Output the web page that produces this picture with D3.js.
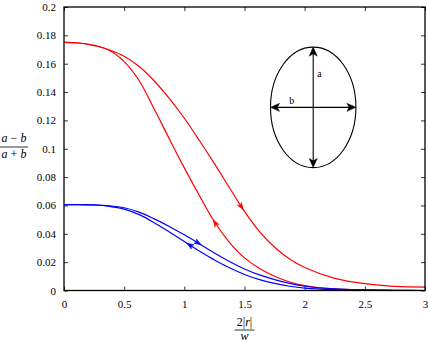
<!DOCTYPE html>
<html>
<head>
<meta charset="utf-8">
<script src="https://cdn.jsdelivr.net/npm/d3@7"></script>
<style>
  html, body { margin: 0; padding: 0; background: #fff; }
  svg { display: block; }
  svg text { font-family: 'Liberation Serif', 'DejaVu Serif', serif !important; }
</style>
</head>
<body>
<svg id="chart" width="428" height="342"></svg>
<script>
// ---- data ----
const xValues      = [0, 0.125, 0.25, 0.375, 0.5, 0.625, 0.75, 0.875, 1.0, 1.125, 1.25, 1.375, 1.5, 1.625, 1.75, 1.875, 2.0, 2.25, 2.5, 2.75, 3.0];
const redForward   = [0.175, 0.1746, 0.1730, 0.1698, 0.1652, 0.1580, 0.1478, 0.1355, 0.1215, 0.1058, 0.0895, 0.0725, 0.0558, 0.0415, 0.0305, 0.0222, 0.0162, 0.0086, 0.0048, 0.0029, 0.0024];
const redBackward  = [0.175, 0.1746, 0.1728, 0.1695, 0.1615, 0.1480, 0.1280, 0.1070, 0.0865, 0.0670, 0.0485, 0.0340, 0.0230, 0.0155, 0.0100, 0.0060, 0.0035, 0.0011, 0.0004, 0.0001, 0];
const blueForward  = [0.0606, 0.0606, 0.0604, 0.0598, 0.0584, 0.0553, 0.0505, 0.0452, 0.0393, 0.0330, 0.0265, 0.0205, 0.0152, 0.0110, 0.0077, 0.0050, 0.0030, 0.0011, 0.0004, 0.0001, 0];
const blueBackward = [0.0606, 0.0606, 0.0603, 0.0594, 0.0574, 0.0535, 0.0478, 0.0413, 0.0345, 0.0278, 0.0215, 0.0160, 0.0113, 0.0077, 0.0050, 0.0030, 0.0017, 0.0006, 0.0002, 0, 0];
const xTicks = [0, 0.5, 1, 1.5, 2, 2.5, 3];
const xTickLabels = ["0", "0.5", "1", "1.5", "2", "2.5", "3"];
const yTicks = [0, 0.02, 0.04, 0.06, 0.08, 0.1, 0.12, 0.14, 0.16, 0.18, 0.2];
const yTickLabels = ["0", "0.02", "0.04", "0.06", "0.08", "0.1", "0.12", "0.14", "0.16", "0.18", "0.2"];
// arrow markers: series, x position, direction (+1 forward, -1 backward)
const arrowSeries = ["redForward", "redBackward", "blueForward", "blueBackward"];
const arrowX      = [1.49, 1.24, 1.14, 1.02];
const arrowDir    = [1, -1, 1, -1];

// ---- layout ----
const FONT = "'Liberation Serif', 'DejaVu Serif', serif";
const svg = d3.select("#chart").style("font-family", FONT);
const L = 64, R = 425, T = 7, B = 290.5;
const x = d3.scaleLinear().domain([0, 3]).range([L, R]);
const y = d3.scaleLinear().domain([0, 0.2]).range([B, T]);

// axes with inward ticks
const fmtX = (d, i) => xTickLabels[i];
const fmtY = (d, i) => yTickLabels[i];
const axB = svg.append("g").attr("transform", `translate(0,${B})`)
  .call(d3.axisBottom(x).tickValues(xTicks).tickFormat(fmtX).tickSizeInner(-4).tickSizeOuter(0).tickPadding(9.5));
const axL = svg.append("g").attr("transform", `translate(${L},0)`)
  .call(d3.axisLeft(y).tickValues(yTicks).tickFormat(fmtY).tickSizeInner(-4).tickSizeOuter(0).tickPadding(8));
const axT = svg.append("g").attr("transform", `translate(0,${T})`)
  .call(d3.axisTop(x).tickValues(xTicks).tickFormat("").tickSizeInner(-4).tickSizeOuter(0));
const axR = svg.append("g").attr("transform", `translate(${R},0)`)
  .call(d3.axisRight(y).tickValues(yTicks).tickFormat("").tickSizeInner(-4).tickSizeOuter(0));
[axB, axL, axT, axR].forEach(g => {
  g.attr("font-family", null).attr("font-size", 11);
  g.select(".domain").remove();
  g.selectAll(".tick line").attr("stroke", "#333").attr("stroke-width", 1);
  g.selectAll(".tick text").attr("fill", "#000").style("font-family", FONT).attr("font-size", 11);
});

// curves
const line = d3.line().x((d, i) => x(xValues[i])).y(d => y(d)).curve(d3.curveCatmullRom.alpha(0.5));
const seriesData = { redForward, redBackward, blueForward, blueBackward };
const seriesColor = { redForward: "#ff0000", redBackward: "#ff0000", blueForward: "#0000ff", blueBackward: "#0000ff" };
const paths = {};
Object.keys(seriesData).forEach(k => {
  paths[k] = svg.append("path").datum(seriesData[k])
    .attr("d", line).attr("fill", "none")
    .attr("stroke", seriesColor[k]).attr("stroke-width", 1.2);
});

// frame
svg.append("rect").attr("x", L).attr("y", T).attr("width", R - L).attr("height", B - T)
  .attr("fill", "none").attr("stroke", "#000").attr("stroke-width", 1.3);

// arrowheads along curves
function arrowHead(g, px, py, ang, len, wid, color) {
  const p = `M0,0 L${-len},${-wid / 2} L${-len * 0.75},0 L${-len},${wid / 2} Z`;
  g.append("path").attr("d", p).attr("fill", color).attr("stroke", color).attr("stroke-width", 0.5)
    .attr("transform", `translate(${px},${py}) rotate(${ang * 180 / Math.PI})`);
}
arrowSeries.forEach((k, i) => {
  const node = paths[k].node();
  const total = node.getTotalLength();
  const target = x(arrowX[i]);
  let lo = 0, hi = total;
  for (let it = 0; it < 40; it++) {
    const mid = (lo + hi) / 2;
    if (node.getPointAtLength(mid).x < target) lo = mid; else hi = mid;
  }
  const p = node.getPointAtLength(lo);
  const p1 = node.getPointAtLength(Math.max(0, lo - 2));
  const p2 = node.getPointAtLength(Math.min(total, lo + 2));
  let ang = Math.atan2(p2.y - p1.y, p2.x - p1.x);
  if (arrowDir[i] < 0) ang += Math.PI;
  arrowHead(svg, p.x, p.y, ang, 7, 5, seriesColor[k]);
});

// inset ellipse (in data coordinates)
const ell = { cx: 2.071, cy: 0.1292, rx: 0.355, ry: 0.0425 };
const ecx = x(ell.cx), ecy = y(ell.cy);
const erx = x(ell.cx + ell.rx) - ecx, ery = ecy - y(ell.cy + ell.ry);
const gi = svg.append("g");
gi.append("ellipse").attr("cx", ecx).attr("cy", ecy).attr("rx", erx).attr("ry", ery)
  .attr("fill", "none").attr("stroke", "#000").attr("stroke-width", 1.1);
gi.append("line").attr("x1", ecx).attr("x2", ecx).attr("y1", ecy - ery + 2).attr("y2", ecy + ery - 2)
  .attr("stroke", "#000").attr("stroke-width", 1.1);
gi.append("line").attr("x1", ecx - erx + 2).attr("x2", ecx + erx - 2).attr("y1", ecy).attr("y2", ecy)
  .attr("stroke", "#000").attr("stroke-width", 1.1);
arrowHead(gi, ecx, ecy - ery, -Math.PI / 2, 9, 8, "#000");
arrowHead(gi, ecx, ecy + ery, Math.PI / 2, 9, 8, "#000");
arrowHead(gi, ecx - erx, ecy, Math.PI, 9, 8, "#000");
arrowHead(gi, ecx + erx, ecy, 0, 9, 8, "#000");
gi.append("text").attr("x", ecx + 4).attr("y", ecy - ery + 30).attr("font-size", 10).text("a");
gi.append("text").attr("x", ecx - 24).attr("y", ecy - 3).attr("font-size", 10).text("b");

// y-axis label: (a − b)/(a + b)
const yl = svg.append("g").attr("transform", "translate(14,0)");
const n1 = yl.append("text").attr("x", 0).attr("y", 142).attr("text-anchor", "middle").attr("font-size", 12);
n1.append("tspan").attr("font-style", "italic").text("a");
n1.append("tspan").text(" − ");
n1.append("tspan").attr("font-style", "italic").text("b");
yl.append("line").attr("x1", -14).attr("x2", 14).attr("y1", 147).attr("y2", 147).attr("stroke", "#000").attr("stroke-width", 0.8);
const d1 = yl.append("text").attr("x", 0).attr("y", 158).attr("text-anchor", "middle").attr("font-size", 12);
d1.append("tspan").attr("font-style", "italic").text("a");
d1.append("tspan").text(" + ");
d1.append("tspan").attr("font-style", "italic").text("b");

// x-axis label: 2|r| / w
const xc = (L + R) / 2;
const xl = svg.append("g");
const n2 = xl.append("text").attr("x", xc).attr("y", 326).attr("text-anchor", "middle").attr("font-size", 12);
n2.append("tspan").text("2|");
n2.append("tspan").attr("font-style", "italic").text("r");
n2.append("tspan").text("|");
xl.append("line").attr("x1", xc - 10).attr("x2", xc + 10).attr("y1", 330).attr("y2", 330).attr("stroke", "#000").attr("stroke-width", 0.8);
xl.append("text").attr("x", xc).attr("y", 340).attr("text-anchor", "middle").attr("font-size", 12)
  .attr("font-style", "italic").text("w");
</script>
</body>
</html>
